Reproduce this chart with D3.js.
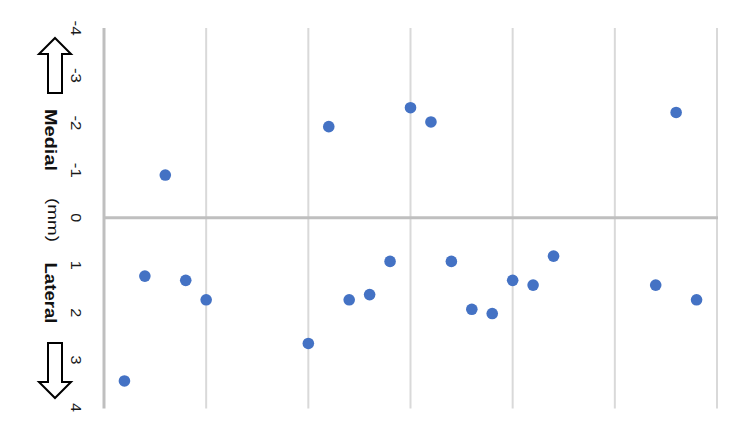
<!DOCTYPE html>
<html>
<head>
<meta charset="utf-8">
<script src="https://cdn.jsdelivr.net/npm/d3@7"></script>
<style>
  html, body { margin: 0; padding: 0; background: #fff; }
  svg { display: block; font-family: "Liberation Sans", Arial, sans-serif; }
</style>
</head>
<body>
<div id="chart"></div>
<script>
// --- data ---
const xValues = [0.2, 0.4, 0.6, 0.8, 1.0, 2.0, 2.2, 2.4, 2.6, 2.8, 3.0, 3.2, 3.4, 3.6, 3.8, 4.0, 4.2, 4.4, 5.4, 5.6, 5.8];
const yValues = [3.44, 1.23, -0.9, 1.32, 1.73, 2.65, -1.92, 1.73, 1.62, 0.92, -2.32, -2.02, 0.92, 1.93, 2.02, 1.32, 1.42, 0.81, 1.42, -2.22, 1.73];
const yTicks = [-4, -3, -2, -1, 0, 1, 2, 3, 4];
const xGrid = [0, 1, 2, 3, 4, 5, 6];

const W = 750, H = 422;
const svg = d3.select('#chart').append('svg').attr('width', W).attr('height', H);

const x = d3.scaleLinear().domain([0, 6]).range([104, 717]);
const y = d3.scaleLinear().domain([-4, 4]).range([28, 407.5]);

// vertical gridlines
svg.append('g').selectAll('line').data(xGrid.slice(1)).join('line')
    .attr('x1', d => x(d)).attr('x2', d => x(d))
    .attr('y1', y(-4)).attr('y2', y(4) + 1)
    .attr('stroke', '#d9d9d9').attr('stroke-width', 2);

// left axis line
svg.append('line')
    .attr('x1', x(0)).attr('x2', x(0)).attr('y1', y(-4)).attr('y2', y(4) + 1)
    .attr('stroke', '#bfbfbf').attr('stroke-width', 3);

// zero line
svg.append('line')
    .attr('x1', x(0)).attr('x2', x(6) + 1).attr('y1', y(0)).attr('y2', y(0))
    .attr('stroke', '#bfbfbf').attr('stroke-width', 3);

// tick labels, rotated clockwise
svg.append('g').selectAll('text').data(yTicks).join('text')
    .attr('transform', d => `translate(76,${y(d)}) rotate(90)`)
    .attr('text-anchor', 'middle').attr('dominant-baseline', 'central')
    .attr('font-size', 14).attr('fill', '#1a1a1a')
    .attr('textLength', d => String(d).length > 1 ? 15 : 9)
    .attr('lengthAdjust', 'spacingAndGlyphs')
    .text(d => d);

// axis title pieces
const titles = [
    { t: 'Medial', cy: 140, cx: 50, w: 62, bold: true },
    { t: '(mm)', cy: 220, cx: 53, w: 44, bold: false },
    { t: 'Lateral', cy: 293, cx: 50, w: 61, bold: true }
];
svg.append('g').selectAll('text').data(titles).join('text')
    .attr('transform', d => `translate(${d.cx},${d.cy}) rotate(90)`)
    .attr('text-anchor', 'middle').attr('dominant-baseline', 'central')
    .attr('font-size', d => d.bold ? 17 : 15)
    .attr('font-weight', d => d.bold ? 'bold' : 'normal')
    .attr('fill', '#111')
    .attr('textLength', d => d.w).attr('lengthAdjust', 'spacingAndGlyphs')
    .text(d => d.t);

// outline arrows
const arrowUp = [[55, 38], [71, 54], [62, 54], [62, 93], [48, 93], [48, 54], [39, 54]];
const arrowDown = [[48, 343], [62, 343], [62, 382], [71, 382], [55, 398], [39, 382], [48, 382]];
svg.append('g').selectAll('path').data([arrowUp, arrowDown]).join('path')
    .attr('d', d => d3.line()(d) + 'Z')
    .attr('fill', '#fff').attr('stroke', '#000').attr('stroke-width', 2)
    .attr('stroke-linejoin', 'miter');

// points
svg.append('g').selectAll('circle').data(xValues.map((v, i) => [v, yValues[i]])).join('circle')
    .attr('cx', d => x(d[0])).attr('cy', d => y(d[1]))
    .attr('r', 5.8).attr('fill', '#4472c4');
</script>
</body>
</html>
